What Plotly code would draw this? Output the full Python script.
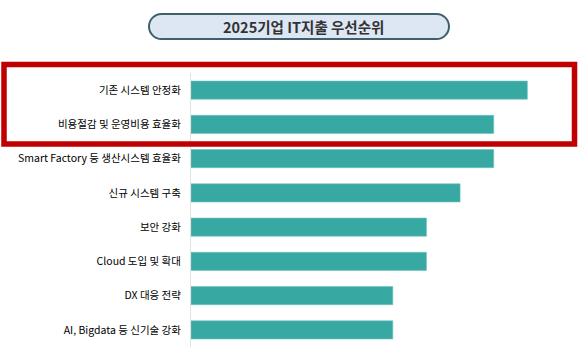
import plotly.graph_objects as go

categories = [
    "기존 시스템 안정화",
    "비용절감 및 운영비용 효율화",
    "Smart Factory 등 생산시스템 효율화",
    "신규 시스템 구축",
    "보안 강화",
    "Cloud 도입 및 확대",
    "DX 대응 전략",
    "AI, Bigdata 등 신기술 강화",
]
values = [10, 9, 9, 8, 7, 7, 6, 6]
title_text = "2025기업 IT지출 우선순위"

W, H = 580, 351
ML, MR, MT, MB = 191, 19, 73, 4
PW, PH = W - ML - MR, H - MT - MB


def px(x):
    return (x - ML) / PW


def py(y):
    return (H - MB - y) / PH


fig = go.Figure(
    go.Bar(
        x=values,
        y=categories,
        orientation="h",
        marker=dict(color="#38a8a3", line=dict(color="#6cc3bf", width=0.6)),
        hoverinfo="skip",
    )
)


def pill(x0, y0, x1, y1, r):
    k = 0.5523 * r
    pts = [
        f"M{px(x0 + r)},{py(y0)}",
        f"L{px(x1 - r)},{py(y0)}",
        f"C{px(x1 - r + k)},{py(y0)} {px(x1)},{py(y0 + r - k)} {px(x1)},{py(y0 + r)}",
        f"L{px(x1)},{py(y1 - r)}",
        f"C{px(x1)},{py(y1 - r + k)} {px(x1 - r + k)},{py(y1)} {px(x1 - r)},{py(y1)}",
        f"L{px(x0 + r)},{py(y1)}",
        f"C{px(x0 + r - k)},{py(y1)} {px(x0)},{py(y1 - r + k)} {px(x0)},{py(y1 - r)}",
        f"L{px(x0)},{py(y0 + r)}",
        f"C{px(x0)},{py(y0 + r - k)} {px(x0 + r - k)},{py(y0)} {px(x0 + r)},{py(y0)}",
        "Z",
    ]
    return " ".join(pts)


shapes = [
    dict(
        type="path",
        xref="paper",
        yref="paper",
        path=pill(149, 14, 449, 39, 12.5),
        fillcolor="#dce7f3",
        line=dict(color="#3f5f6d", width=2),
        layer="above",
    ),
    dict(
        type="rect",
        xref="paper",
        yref="paper",
        x0=px(4),
        x1=px(574.5),
        y0=py(64.5),
        y1=py(144),
        line=dict(color="#c00000", width=5.5),
        fillcolor="rgba(0,0,0,0)",
        layer="above",
    ),
]

fig.update_layout(
    width=W,
    height=H,
    margin=dict(l=ML, r=MR, t=MT, b=MB, pad=0, autoexpand=False),
    paper_bgcolor="white",
    plot_bgcolor="white",
    showlegend=False,
    bargap=0.47,
    shapes=shapes,
    annotations=[
        dict(
            text="<b>" + title_text + "</b>",
            xref="paper",
            yref="paper",
            x=px(303),
            y=py(26.5),
            xanchor="center",
            yanchor="middle",
            showarrow=False,
            font=dict(family="Noto Sans CJK KR", size=14.5, color="#333333"),
        )
    ],
    xaxis=dict(
        range=[0, 11],
        showgrid=False,
        zeroline=False,
        showticklabels=False,
        showline=False,
        ticks="",
        automargin=False,
    ),
    yaxis=dict(
        categoryorder="array",
        categoryarray=categories,
        autorange="reversed",
        automargin=False,
        showgrid=False,
        zeroline=False,
        showline=True,
        linecolor="#e2e2e2",
        linewidth=1,
        ticks="outside",
        ticklen=7,
        tickcolor="rgba(0,0,0,0)",
        tickfont=dict(family="Noto Sans CJK KR", size=10.5, color="#000000"),
    ),
)

fig.write_html("out.html")
